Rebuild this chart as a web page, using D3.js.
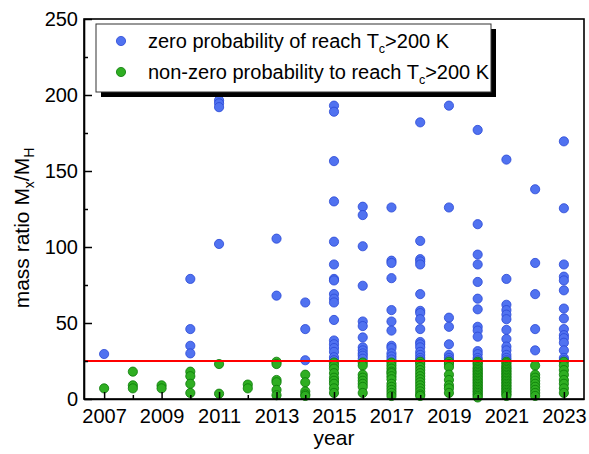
<!DOCTYPE html>
<html>
<head>
<meta charset="utf-8">
<script src="https://cdn.jsdelivr.net/npm/d3@7"></script>
<style>
  body { margin: 0; background: #fff; }
  svg text { font-family: "Liberation Sans", Arial, sans-serif; fill: #000; }
</style>
</head>
<body>
<div id="chart"></div>
<script>
// années et valeurs
var years = [2007, 2008, 2009, 2010, 2011, 2012, 2013, 2014, 2015, 2016, 2017, 2018, 2019, 2020, 2021, 2022, 2023];

// ratio de masse, probabilité nulle (bleu)
var blueVals = [
  [29.6],
  [],
  [],
  [79, 46, 35, 30],
  [196.5, 194.5, 192, 102],
  [],
  [105.5, 68],
  [63.5, 46, 25.5],
  [193, 189, 156.5, 130, 103.5, 88.5, 79, 78, 69, 66, 63.5, 52, 38.5, 36, 33.5, 31, 27.5, 25.5],
  [126.5, 121, 100.5, 74.5, 51, 48, 40.5, 34, 32, 30, 28.5, 26.5],
  [126, 91, 89.5, 79.5, 58.5, 51, 45, 35, 33.5, 30, 28, 26],
  [182, 104, 92, 90.5, 88.5, 69, 58, 56.5, 52.5, 46, 37.5, 36, 34, 31, 29, 27, 25.5],
  [193, 126, 53.5, 47.5, 36, 29, 27, 25.5],
  [177, 115, 95, 88.5, 77, 66, 59, 47.5, 45, 41, 31.5, 29.5, 27, 25.5],
  [157.5, 79, 62, 58.5, 55.5, 52.5, 45.5, 39.5, 34.5, 32, 29, 27, 25.5],
  [138, 89.5, 69, 46, 32],
  [169.5, 125.5, 88.5, 80.5, 78, 71.5, 59.5, 53, 46, 42, 40, 37, 32, 27, 25.5]
];

// ratio de masse, probabilité non nulle (vert)
var greenVals = [
  [7],
  [18, 9, 7],
  [9, 7],
  [18, 15, 10, 4],
  [23, 3.5],
  [9.5, 7],
  [24.5, 23, 12.5, 11, 6, 2.5],
  [16, 11, 5, 3, 2],
  [24, 22, 20, 17, 14, 12, 10, 7, 4],
  [24, 22, 16, 14, 12, 10, 8, 4],
  [24, 22, 20, 18, 17, 15, 13, 10, 8, 6, 4, 2],
  [24.5, 23, 21, 19, 17, 15, 13, 11, 9, 7, 5, 3, 2],
  [24.5, 23, 21, 16, 12.5, 9, 7, 4],
  [24.5, 23.5, 22.5, 21, 20, 19, 18, 17, 16, 15, 14, 13, 12, 11, 10, 9, 8, 7, 6, 5, 4, 3, 2, 1],
  [24.5, 23.5, 22, 21, 20, 19, 18, 17, 16, 15, 14, 13, 12, 11, 10, 9, 8, 7, 6, 5, 4, 3, 2],
  [22, 16, 14, 12, 10, 8, 6, 4, 2],
  [24.5, 22, 19, 16, 12.5, 10, 7, 4]
];

var threshold = 25;
var yMajor = [0, 50, 100, 150, 200, 250];
var yMinor = [25, 75, 125, 175, 225];
var xMajor = [2007, 2009, 2011, 2013, 2015, 2017, 2019, 2021, 2023];
var xMinor = [2008, 2010, 2012, 2014, 2016, 2018, 2020, 2022];

var W = 589, H = 454;
var margin = {top: 19, right: 5, bottom: 55, left: 84};

var svg = d3.select("#chart").append("svg")
    .attr("width", W)
    .attr("height", H);

var x = d3.scaleLinear().domain([2006.3, 2023.7]).range([margin.left, W - margin.right]);
var y = d3.scaleLinear().domain([0, 250]).range([H - margin.bottom, margin.top]);

var blueFill = "#5072f0", blueStroke = "#2a48d6";
var greenFill = "#2fae22", greenStroke = "#0a7a08";
var R = 4.6;

// points à plat
function flat(vals){
    var out = [];
    vals.forEach(function(list, i){
        list.forEach(function(v){ out.push({year: years[i], v: v}); });
    });
    return out;
}

svg.append("g").selectAll("circle")
    .data(flat(blueVals))
    .enter().append("circle")
    .attr("cx", function(d){ return x(d.year); })
    .attr("cy", function(d){ return y(d.v); })
    .attr("r", R)
    .attr("fill", blueFill)
    .attr("stroke", blueStroke)
    .attr("stroke-width", 0.8);

svg.append("g").selectAll("circle")
    .data(flat(greenVals))
    .enter().append("circle")
    .attr("cx", function(d){ return x(d.year); })
    .attr("cy", function(d){ return y(d.v); })
    .attr("r", R)
    .attr("fill", greenFill)
    .attr("stroke", greenStroke)
    .attr("stroke-width", 0.8);

// ligne rouge du seuil
svg.append("line")
    .attr("x1", x.range()[0]).attr("x2", x.range()[1])
    .attr("y1", y(threshold)).attr("y2", y(threshold))
    .attr("stroke", "#ff0000")
    .attr("stroke-width", 2);

// axes (ticks vers l'intérieur)
var xAxis = svg.append("g")
    .attr("transform", "translate(0," + y(0) + ")")
    .call(d3.axisBottom(x).tickValues(xMajor).tickFormat(d3.format("d")).tickSizeInner(-7).tickSizeOuter(0).tickPadding(10));
xAxis.selectAll(".tick line").attr("stroke-width", 1.5);
svg.append("g")
    .attr("transform", "translate(0," + y(0) + ")")
    .call(d3.axisBottom(x).tickValues(xMinor).tickFormat("").tickSizeInner(-4).tickSizeOuter(0))
    .call(function(g){ g.select(".domain").remove(); })
    .selectAll(".tick line").attr("stroke-width", 1.5);

var yAxis = svg.append("g")
    .attr("transform", "translate(" + x.range()[0] + ",0)")
    .call(d3.axisLeft(y).tickValues(yMajor).tickSizeInner(-8).tickSizeOuter(0).tickPadding(6));
yAxis.selectAll(".tick line").attr("stroke-width", 1.5);
svg.append("g")
    .attr("transform", "translate(" + x.range()[0] + ",0)")
    .call(d3.axisLeft(y).tickValues(yMinor).tickFormat("").tickSizeInner(-4).tickSizeOuter(0))
    .call(function(g){ g.select(".domain").remove(); })
    .selectAll(".tick line").attr("stroke-width", 1.5);

svg.selectAll(".tick text")
    .style("font-family", "'Liberation Sans', Arial, sans-serif")
    .style("font-size", "20px");
xAxis.selectAll(".tick text").attr("dy", "0.71em");

// cadre
svg.append("rect")
    .attr("x", x.range()[0]).attr("y", y.range()[1])
    .attr("width", x.range()[1] - x.range()[0])
    .attr("height", y.range()[0] - y.range()[1])
    .attr("fill", "none")
    .attr("stroke", "#000")
    .attr("stroke-width", 1.6);
svg.selectAll(".domain").attr("stroke-width", 1.6);

// titres des axes
svg.append("text")
    .attr("x", (x.range()[0] + x.range()[1]) / 2)
    .attr("y", 445)
    .attr("text-anchor", "middle")
    .style("font-size", "21px")
    .text("year");

var yl = svg.append("text")
    .attr("transform", "translate(29," + 228 + ") rotate(-90)")
    .attr("text-anchor", "middle")
    .style("font-size", "21px");
yl.append("tspan").text("mass ratio M");
yl.append("tspan").attr("dy", 5).style("font-size", "14px").text("x");
yl.append("tspan").attr("dy", -5).text("/M");
yl.append("tspan").attr("dy", 5).style("font-size", "14px").text("H");

// légende avec ombre
var leg = svg.append("g");
leg.append("rect")
    .attr("x", 101).attr("y", 29).attr("width", 395).attr("height", 68)
    .attr("fill", "#000");
leg.append("rect")
    .attr("x", 96).attr("y", 24).attr("width", 395).attr("height", 68)
    .attr("fill", "#fff")
    .attr("stroke", "#333")
    .attr("stroke-width", 1);

var legItems = [
    {fill: blueFill, stroke: blueStroke, a: "zero probability of reach T", b: ">200 K", cy: 41},
    {fill: greenFill, stroke: greenStroke, a: "non-zero probability to reach T", b: ">200 K", cy: 72}
];
legItems.forEach(function(it){
    leg.append("circle")
        .attr("cx", 121).attr("cy", it.cy).attr("r", R)
        .attr("fill", it.fill).attr("stroke", it.stroke).attr("stroke-width", 0.8);
    var t = leg.append("text")
        .attr("x", 148).attr("y", it.cy + 7)
        .style("font-size", "20px");
    t.append("tspan").text(it.a);
    t.append("tspan").attr("dy", 5).style("font-size", "12.5px").text("c");
    t.append("tspan").attr("dy", -5).text(it.b);
});
</script>
</body>
</html>
